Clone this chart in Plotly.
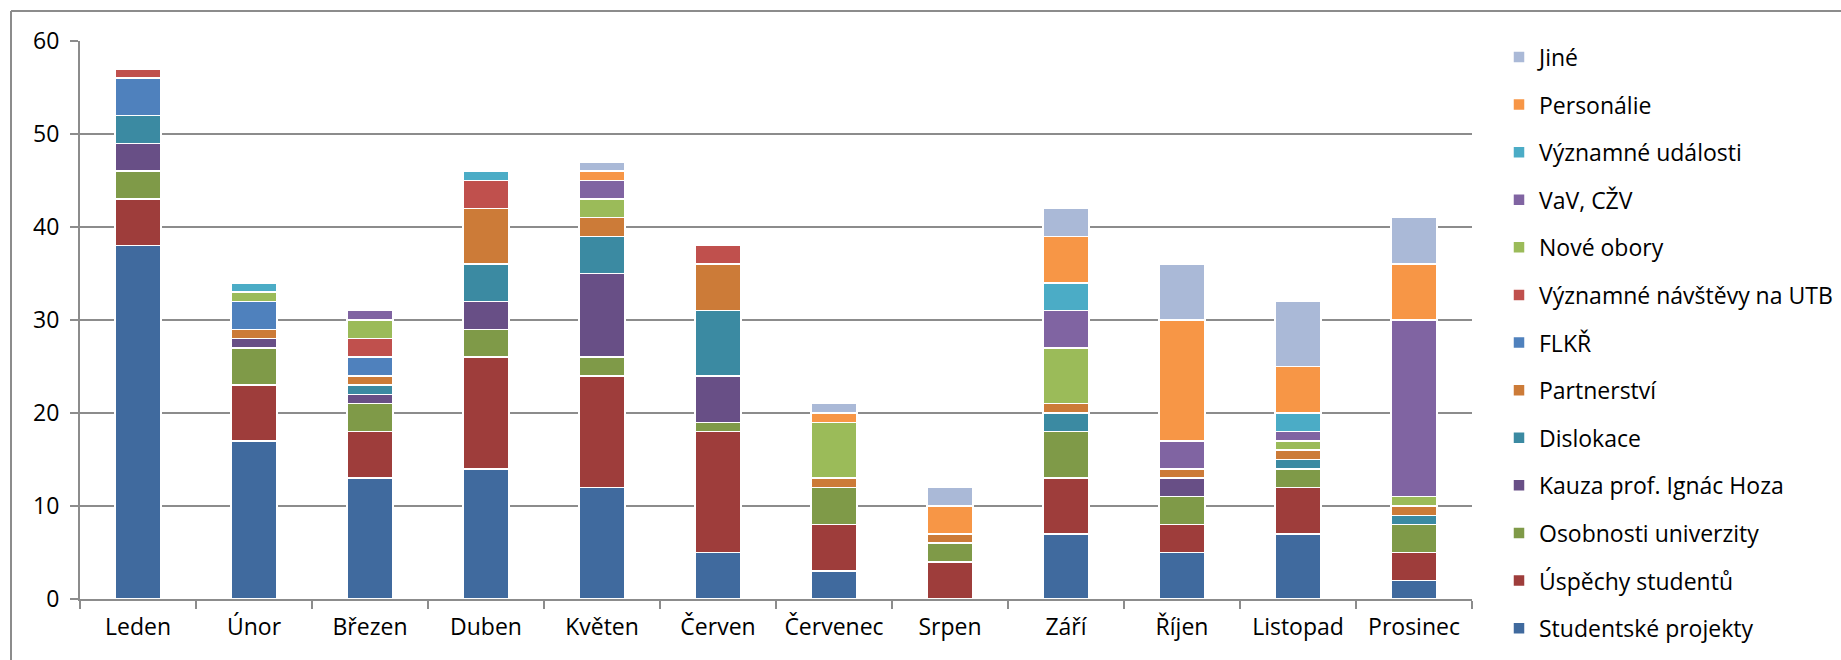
import plotly.graph_objects as go

months = ["Leden", "Únor", "Březen", "Duben", "Květen", "Červen", "Červenec",
          "Srpen", "Září", "Říjen", "Listopad", "Prosinec"]

studentske_projekty = [38, 17, 13, 14, 12, 5, 3, 0, 7, 5, 7, 2]
uspechy_studentu = [5, 6, 5, 12, 12, 13, 5, 4, 6, 3, 5, 3]
osobnosti_univerzity = [3, 4, 3, 3, 2, 1, 4, 2, 5, 3, 2, 3]
kauza_hoza = [3, 1, 1, 3, 9, 5, 0, 0, 0, 2, 0, 0]
dislokace = [3, 0, 1, 4, 4, 7, 0, 0, 2, 0, 1, 1]
partnerstvi = [0, 1, 1, 6, 2, 5, 1, 1, 1, 1, 1, 1]
flkr = [4, 3, 2, 0, 0, 0, 0, 0, 0, 0, 0, 0]
vyznamne_navstevy = [1, 0, 2, 3, 0, 2, 0, 0, 0, 0, 0, 0]
nove_obory = [0, 1, 2, 0, 2, 0, 6, 0, 6, 0, 1, 1]
vav_czv = [0, 0, 1, 0, 2, 0, 0, 0, 4, 3, 1, 19]
vyznamne_udalosti = [0, 1, 0, 1, 0, 0, 0, 0, 3, 0, 2, 0]
personalie = [0, 0, 0, 0, 1, 0, 1, 3, 5, 13, 5, 6]
jine = [0, 0, 0, 0, 1, 0, 1, 2, 3, 6, 7, 5]

series = [
    ("Studentské projekty", studentske_projekty, "#406A9E"),
    ("Úspěchy studentů", uspechy_studentu, "#9E3D3B"),
    ("Osobnosti univerzity", osobnosti_univerzity, "#7F9A48"),
    ("Kauza prof. Ignác Hoza", kauza_hoza, "#684F86"),
    ("Dislokace", dislokace, "#3B8AA2"),
    ("Partnerství", partnerstvi, "#CC7B38"),
    ("FLKŘ", flkr, "#4F81BD"),
    ("Významné návštěvy na UTB", vyznamne_navstevy, "#C0504D"),
    ("Nové obory", nove_obory, "#9BBB59"),
    ("VaV, CŽV", vav_czv, "#8064A2"),
    ("Významné události", vyznamne_udalosti, "#4BACC6"),
    ("Personálie", personalie, "#F79646"),
    ("Jiné", jine, "#AAB9D7"),
]

FONT = "Open Sans"
FS = 23
W, H = 1841, 660
L, R, T, B = 80, 1472, 41, 599

fig = go.Figure()
n = len(series)
for i, (name, vals, col) in enumerate(series):
    fig.add_trace(go.Bar(
        x=months, y=vals, name=name, legendgroup=name, legendrank=100 + (n - i),
        marker=dict(color=col, line=dict(color="white", width=1.5)),
    ))

def px_x(p):
    return (p - L) / (R - L)

def px_y(p):
    return (B - p) / (B - T)

grid = "#8C8C8C"
fig.update_layout(
    width=W, height=H,
    margin=dict(l=L, r=W - R, t=T, b=H - B, pad=0, autoexpand=False),
    barmode="stack", bargap=0.603,
    plot_bgcolor="white", paper_bgcolor="white",
    font=dict(family=FONT, size=FS, color="#000000"),
    showlegend=True,
    legend=dict(
        x=px_x(1499), y=px_y(35.5), xanchor="left", yanchor="top",
        traceorder="grouped", tracegroupgap=14.7, maxheight=1.0,
        font=dict(family=FONT, size=FS, color="#000000"),
        bgcolor="rgba(0,0,0,0)", itemwidth=30,
    ),
    xaxis=dict(
        showline=True, linecolor=grid, linewidth=2,
        ticks="outside", ticklen=8, tickcolor=grid, tickwidth=2,
        tickson="boundaries", showgrid=False, ticklabelstandoff=6,
        tickfont=dict(family=FONT, size=FS),
    ),
    yaxis=dict(
        range=[0, 60], dtick=10, showgrid=True, gridcolor=grid, gridwidth=2,
        showline=True, linecolor=grid, linewidth=2,
        ticks="outside", ticklen=8, tickcolor=grid, tickwidth=2,
        zeroline=False, ticklabelstandoff=6,
        tickfont=dict(family=FONT, size=FS),
    ),
    shapes=[
        dict(type="line", xref="paper", yref="paper",
             x0=px_x(11), x1=px_x(1841), y0=px_y(11), y1=px_y(11),
             line=dict(color=grid, width=2)),
        dict(type="line", xref="paper", yref="paper",
             x0=px_x(11), x1=px_x(11), y0=px_y(11), y1=px_y(660),
             line=dict(color=grid, width=2)),
    ],
)

fig.write_html("out.html",
               config={"displayModeBar": False},
               post_script="document.body.style.margin='0px';document.body.style.overflow='hidden';")
